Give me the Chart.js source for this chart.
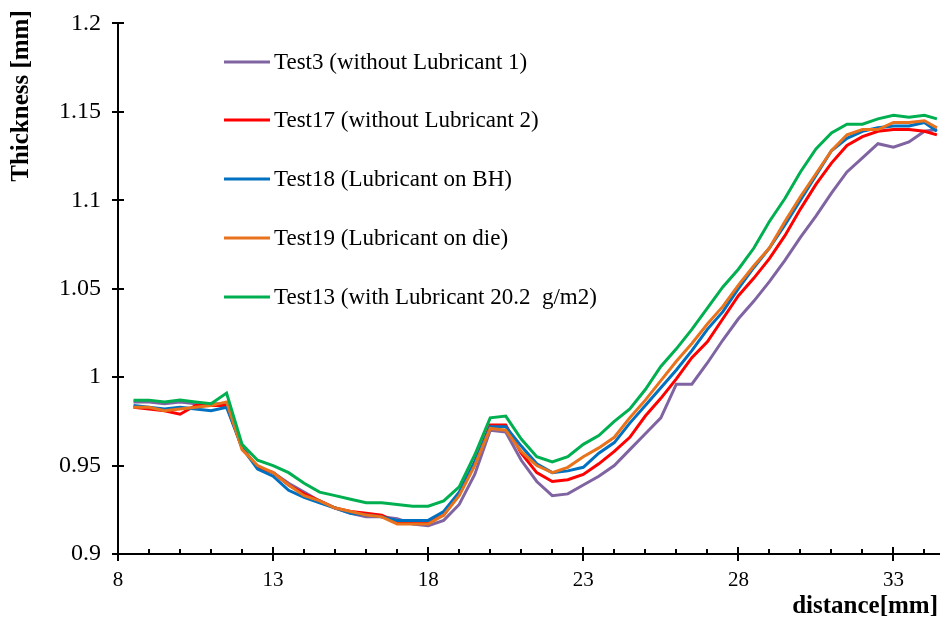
<!DOCTYPE html>
<html>
<head>
<meta charset="utf-8">
<script src="https://cdn.jsdelivr.net/npm/chart.js@4.4.0/dist/chart.umd.min.js"></script>
<style>
  html, body { margin: 0; padding: 0; background: #fff; }
  #wrap { width: 940px; height: 624px; position: relative; }
</style>
</head>
<body>
<div id="wrap"><canvas id="c"></canvas></div>
<script>
'use strict';
// distance [mm]
const distance = [8.5, 9, 9.5, 10, 10.5, 11, 11.5, 12, 12.5, 13, 13.5, 14, 14.5, 15, 15.5, 16, 16.5, 17, 17.5, 18,
  18.5, 19, 19.5, 20, 20.5, 21, 21.5, 22, 22.5, 23, 23.5, 24, 24.5, 25, 25.5, 26, 26.5, 27, 27.5, 28,
  28.5, 29, 29.5, 30, 30.5, 31, 31.5, 32, 32.5, 33, 33.5, 34, 34.4];

const test3 = [0.986, 0.986, 0.985, 0.986, 0.985, 0.985, 0.985, 0.960, 0.949, 0.946, 0.940, 0.935, 0.930, 0.926, 0.923, 0.921, 0.921, 0.920, 0.917, 0.916,
  0.919, 0.928, 0.945, 0.970, 0.969, 0.953, 0.941, 0.933, 0.934, 0.939, 0.944, 0.950, 0.959, 0.968, 0.977, 0.996, 0.996, 1.008, 1.021, 1.033,
  1.043, 1.054, 1.066, 1.079, 1.091, 1.104, 1.116, 1.124, 1.132, 1.130, 1.133, 1.139, 1.140];
const test17 = [0.983, 0.982, 0.981, 0.979, 0.984, 0.984, 0.984, 0.960, 0.949, 0.946, 0.939, 0.934, 0.930, 0.926, 0.924, 0.923, 0.922, 0.918, 0.918, 0.918,
  0.922, 0.934, 0.952, 0.973, 0.973, 0.957, 0.946, 0.941, 0.942, 0.945, 0.951, 0.958, 0.966, 0.978, 0.988, 0.999, 1.011, 1.020, 1.033, 1.046,
  1.056, 1.067, 1.080, 1.095, 1.109, 1.121, 1.131, 1.136, 1.139, 1.140, 1.140, 1.139, 1.137];
const test18 = [0.984, 0.983, 0.982, 0.983, 0.982, 0.981, 0.983, 0.960, 0.948, 0.944, 0.936, 0.932, 0.929, 0.926, 0.923, 0.922, 0.921, 0.919, 0.919, 0.919,
  0.924, 0.935, 0.952, 0.972, 0.972, 0.961, 0.951, 0.946, 0.947, 0.949, 0.957, 0.963, 0.974, 0.984, 0.994, 1.004, 1.015, 1.027, 1.037, 1.050,
  1.062, 1.073, 1.086, 1.100, 1.114, 1.128, 1.135, 1.139, 1.141, 1.142, 1.142, 1.144, 1.139];
const test19 = [0.983, 0.983, 0.981, 0.982, 0.983, 0.984, 0.986, 0.959, 0.950, 0.946, 0.939, 0.933, 0.930, 0.926, 0.924, 0.922, 0.921, 0.917, 0.917, 0.917,
  0.922, 0.933, 0.950, 0.971, 0.970, 0.958, 0.950, 0.946, 0.949, 0.955, 0.960, 0.966, 0.977, 0.987, 0.998, 1.009, 1.019, 1.030, 1.040, 1.052,
  1.063, 1.073, 1.088, 1.102, 1.115, 1.128, 1.137, 1.140, 1.140, 1.144, 1.144, 1.145, 1.141];
const test13 = [0.987, 0.987, 0.986, 0.987, 0.986, 0.985, 0.991, 0.962, 0.953, 0.950, 0.946, 0.940, 0.935, 0.933, 0.931, 0.929, 0.929, 0.928, 0.927, 0.927,
  0.930, 0.938, 0.956, 0.977, 0.978, 0.965, 0.955, 0.952, 0.955, 0.962, 0.967, 0.975, 0.982, 0.993, 1.006, 1.016, 1.027, 1.039, 1.051, 1.061,
  1.073, 1.088, 1.101, 1.116, 1.129, 1.138, 1.143, 1.143, 1.146, 1.148, 1.147, 1.148, 1.146];

const seriesNames = ['Test3 (without Lubricant 1)', 'Test17 (without Lubricant 2)', 'Test18 (Lubricant on BH)',
  'Test19 (Lubricant on die)', 'Test13 (with Lubricant 20.2  g/m2)'];
const seriesColors = ['#8064a2', '#ff0000', '#0070c0', '#e8731c', '#00b050'];
const xTicks = [8, 13, 18, 23, 28, 33];
const yTicks = [0.9, 0.95, 1, 1.05, 1.1, 1.15, 1.2];

const FONT = '"Liberation Serif", "Times New Roman", serif';
const allSeries = [test3, test17, test18, test19, test13];

const datasets = allSeries.map((vals, i) => ({
  label: seriesNames[i],
  data: vals.map((v, k) => ({ x: distance[k], y: v })),
  borderColor: seriesColors[i],
  backgroundColor: seriesColors[i],
  borderWidth: 3,
  pointRadius: 0,
  tension: 0,
  order: allSeries.length - i
}));

// tick marks crossing the axes, legend inside the plot, axis titles
const decor = {
  id: 'decor',
  afterDraw(chart) {
    const ctx = chart.ctx;
    const xs = chart.scales.x, ys = chart.scales.y;
    const area = chart.chartArea;
    ctx.save();
    ctx.strokeStyle = '#000';
    ctx.lineWidth = 2;
    ctx.beginPath();
    yTicks.forEach(v => {
      const py = Math.round(ys.getPixelForValue(v));
      ctx.moveTo(area.left - 6, py);
      ctx.lineTo(area.left + 6, py);
    });
    for (let v = 8; v <= 34; v++) {
      const px = Math.round(xs.getPixelForValue(v));
      if (xTicks.includes(v)) {
        ctx.moveTo(px, area.bottom - 7);
        ctx.lineTo(px, area.bottom + 7);
      } else {
        ctx.moveTo(px, area.bottom - 5);
        ctx.lineTo(px, area.bottom);
      }
    }
    ctx.stroke();

    // legend
    const rows = [62, 120, 179, 238, 297];
    ctx.font = '23px ' + FONT;
    ctx.textBaseline = 'middle';
    ctx.textAlign = 'left';
    seriesNames.forEach((name, i) => {
      ctx.strokeStyle = seriesColors[i];
      ctx.lineWidth = 3;
      ctx.beginPath();
      ctx.moveTo(224, rows[i]);
      ctx.lineTo(270, rows[i]);
      ctx.stroke();
      ctx.fillStyle = '#000';
      ctx.fillText(name, 274, rows[i] + 1);
    });

    // axis titles
    ctx.font = 'bold 25px ' + FONT;
    ctx.fillStyle = '#000';
    ctx.textAlign = 'right';
    ctx.fillText('distance[mm]', 938, 607);
    ctx.translate(22, 96);
    ctx.rotate(-Math.PI / 2);
    ctx.textAlign = 'center';
    ctx.fillText('Thickness [mm]', 0, 0);
    ctx.restore();
  }
};

new Chart(document.getElementById('c'), {
  type: 'line',
  data: { datasets },
  plugins: [decor],
  options: {
    responsive: true,
    maintainAspectRatio: false,
    animation: false,
    layout: { padding: { top: 21, right: 0, left: 0, bottom: 0 } },
    plugins: { legend: { display: false }, tooltip: { enabled: false } },
    scales: {
      x: {
        type: 'linear',
        min: 8,
        max: 34.5,
        afterBuildTicks: s => { s.ticks = xTicks.map(v => ({ value: v })); },
        afterFit: s => { s.height = 70; },
        grid: { display: false },
        border: { display: true, color: '#000', width: 2 },
        ticks: { color: '#000', padding: 6, font: { family: FONT, size: 21 }, maxRotation: 0 }
      },
      y: {
        min: 0.9,
        max: 1.2,
        afterBuildTicks: s => { s.ticks = yTicks.map(v => ({ value: v })); },
        afterFit: s => { s.width = 118; },
        grid: { display: false },
        border: { display: true, color: '#000', width: 2 },
        ticks: { color: '#000', padding: 9, font: { family: FONT, size: 24 }, callback: v => String(+v.toFixed(2)) }
      }
    }
  }
});
</script>
</body>
</html>
